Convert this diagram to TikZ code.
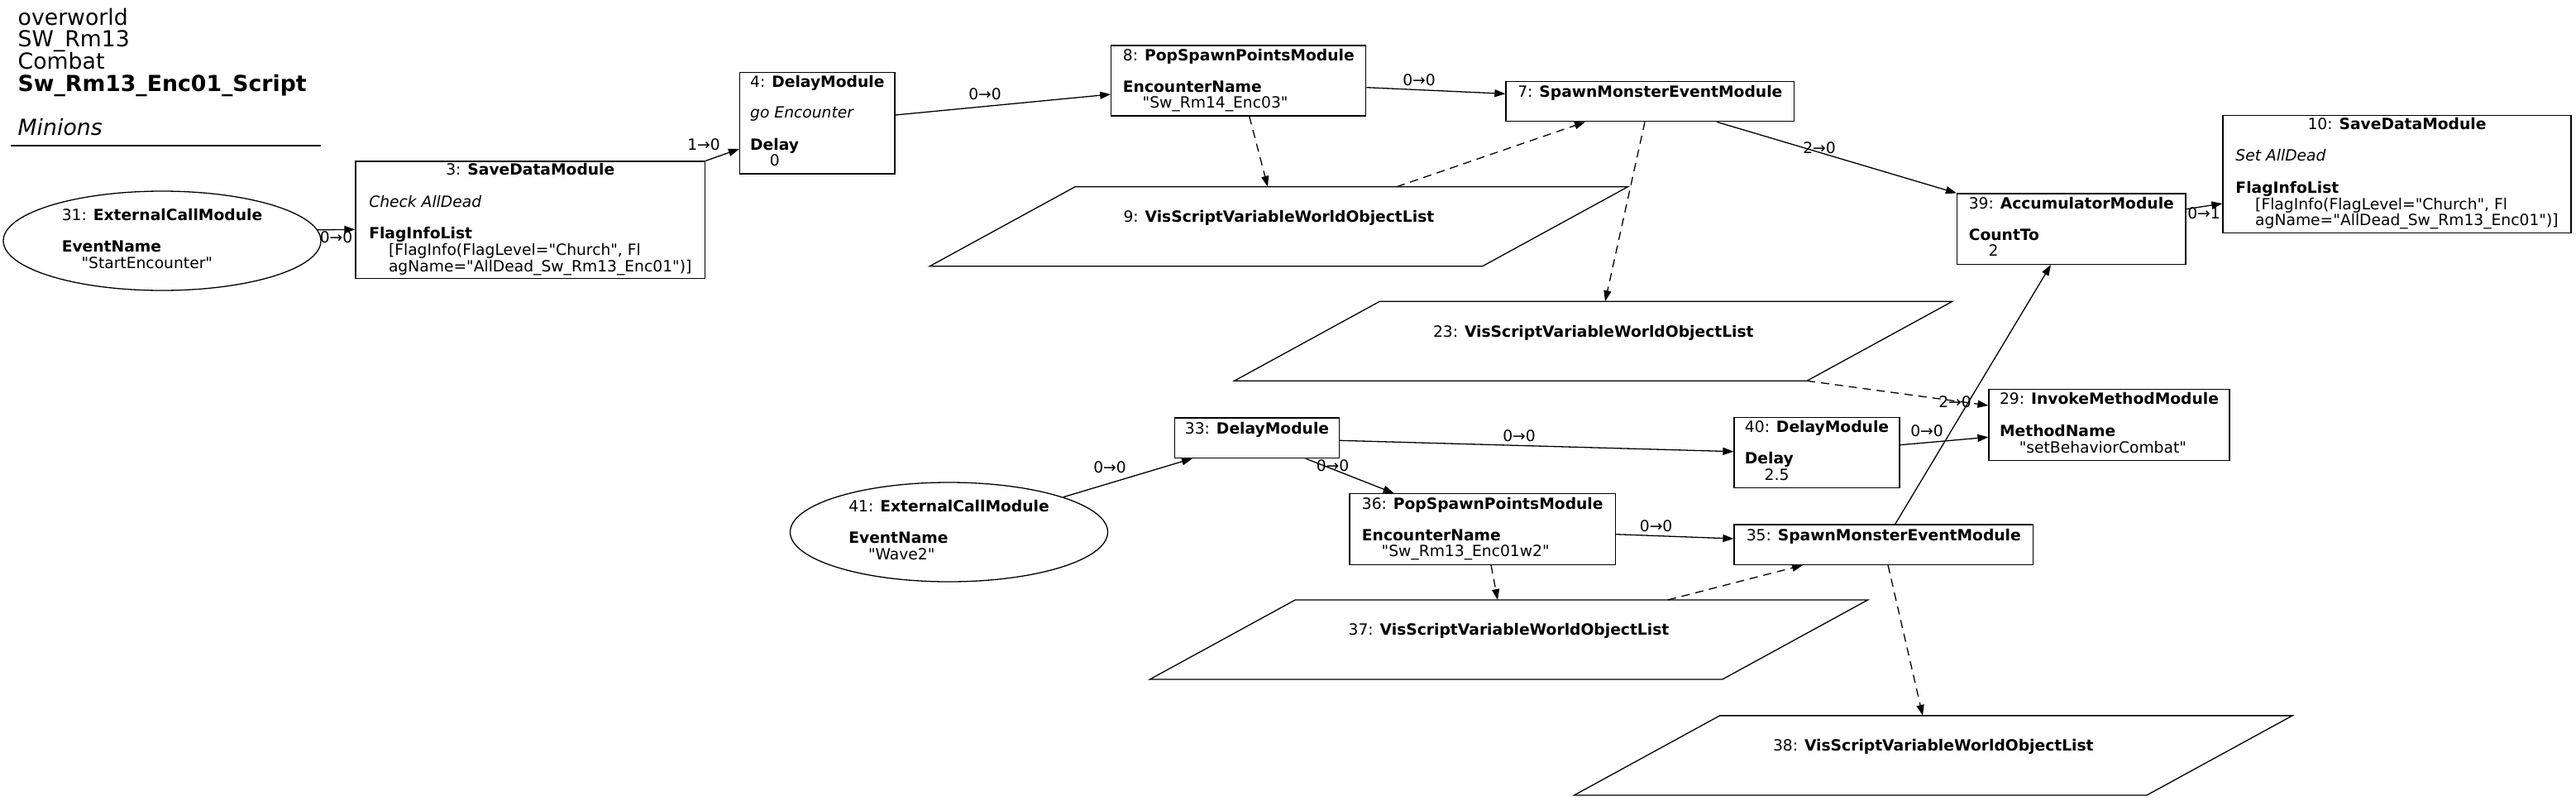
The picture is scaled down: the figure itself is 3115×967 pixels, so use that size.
\documentclass[tikz,border=0pt]{standalone}
\usepackage{fontspec}
\setmainfont{DejaVu Sans}[Ligatures=TeXOff]
\usetikzlibrary{shapes.geometric,arrows.meta}

\newcommand{\nodefont}{\fontsize{18.7}{18.7}\selectfont}
\newcommand{\titlefont}{\fontsize{26.7}{26.7}\selectfont}
\newcommand{\valind}{\hspace*{1.27em}}
\newcommand{\modtitle}[1]{\multicolumn{1}{@{}c@{}}{#1}}

\tikzset{
	module/.style={draw, rectangle, line width=1.3pt, inner sep=0pt, font=\nodefont},
	extcall/.style={draw, ellipse, line width=1.3pt, inner sep=0pt, minimum width=384, minimum height=120, font=\nodefont},
	vislist/.style={rectangle, inner sep=0pt, minimum height=95.7, font=\nodefont},
	visborder/.style={line width=1.3pt, line join=miter},
	flow/.style={-{Triangle[length=13pt,width=9pt]}, line width=1.3pt},
	varflow/.style={flow, dash pattern=on 10pt off 7pt},
	elabel/.style={anchor=base, inner sep=0pt, font=\nodefont},
	titleline/.style={anchor=base west, inner sep=0pt, font=\titlefont},
}

\begin{document}
\begin{tikzpicture}[x=1pt,y=-1pt]
	\useasboundingbox[fill=white] (0,0) rectangle (3115,967);

	% Title
	\node[titleline] (t1) at (21.5,30) {overworld};
	\node[titleline] (t2) at (21.5,56.7) {SW\_Rm13};
	\node[titleline] (t3) at (21.5,83.4) {Combat};
	\node[titleline] (t4) at (21.5,110.1) {\textbf{Sw\_Rm13\_Enc01\_Script}};
	\node[titleline] (t5) at (21.5,163.5) {\textit{Minions}};
	\draw[line width=1.3pt] (13,176) -- (387.5,176);

	% First encounter
	\node[extcall] (m31) at (196,291) {\begin{tabular}{@{}l@{}}31: \textbf{ExternalCallModule}\\ \\ \textbf{EventName}\\ \valind"StartEncounter"\end{tabular}};
	\node[module, minimum width=422.5, minimum height=141.7] (m3) at (641.3,265.9) {\begin{tabular}{@{}l@{}}\modtitle{3: \textbf{SaveDataModule}}\\ \\ \textit{Check AllDead}\\ \\ \textbf{FlagInfoList}\\ \valind[FlagInfo(FlagLevel="Church", Fl\\ \valind agName="AllDead\_Sw\_Rm13\_Enc01")]\end{tabular}};
	\node[module, minimum width=187.4, minimum height=122.7] (m4) at (988.3,148.7) {\begin{tabular}{@{}l@{}}\modtitle{4: \textbf{DelayModule}}\\ \\ \textit{go Encounter}\\ \\ \textbf{Delay}\\ \valind 0\end{tabular}};
	\node[module, minimum width=308, minimum height=85] (m8) at (1497.8,97.5) {\begin{tabular}{@{}l@{}}\modtitle{8: \textbf{PopSpawnPointsModule}}\\ \\ \textbf{EncounterName}\\ \valind"Sw\_Rm14\_Enc03"\end{tabular}};
	\node[module, minimum width=348.6, minimum height=48] (m7) at (1995.3,122.7) {\begin{tabular}{@{}l@{}}\modtitle{7: \textbf{SpawnMonsterEventModule}}\\ {}\end{tabular}};
	\node[vislist, minimum width=844] (v9) at (1546.4,273.7) {\begin{tabular}{@{}c@{}}9: \textbf{VisScriptVariableWorldObjectList}\\ {}\end{tabular}};
	\node[vislist, minimum width=868] (v23) at (1926.8,412.2) {\begin{tabular}{@{}c@{}}23: \textbf{VisScriptVariableWorldObjectList}\\ {}\end{tabular}};
	\node[module, minimum width=276.5, minimum height=85.3] (m39) at (2504.8,276.7) {\begin{tabular}{@{}l@{}}\modtitle{39: \textbf{AccumulatorModule}}\\ \\ \textbf{CountTo}\\ \valind 2\end{tabular}};
	\node[module, minimum width=421, minimum height=142] (m10) at (2898.5,210.3) {\begin{tabular}{@{}l@{}}\modtitle{10: \textbf{SaveDataModule}}\\ \\ \textit{Set AllDead}\\ \\ \textbf{FlagInfoList}\\ \valind[FlagInfo(FlagLevel="Church", Fl\\ \valind agName="AllDead\_Sw\_Rm13\_Enc01")]\end{tabular}};

	% Wave 2
	\node[extcall] (m41) at (1147.5,643) {\begin{tabular}{@{}l@{}}41: \textbf{ExternalCallModule}\\ \\ \textbf{EventName}\\ \valind"Wave2"\end{tabular}};
	\node[module, minimum width=199, minimum height=48.3] (m33) at (1520,529.2) {\begin{tabular}{@{}l@{}}\modtitle{33: \textbf{DelayModule}}\\ {}\end{tabular}};
	\node[module, minimum width=321.5, minimum height=85.6] (m36) at (1792.7,639.5) {\begin{tabular}{@{}l@{}}\modtitle{36: \textbf{PopSpawnPointsModule}}\\ \\ \textbf{EncounterName}\\ \valind"Sw\_Rm13\_Enc01w2"\end{tabular}};
	\node[module, minimum width=200, minimum height=85] (m40) at (2197,546.8) {\begin{tabular}{@{}l@{}}\modtitle{40: \textbf{DelayModule}}\\ \\ \textbf{Delay}\\ \valind 2.5\end{tabular}};
	\node[module, minimum width=291, minimum height=86] (m29) at (2550.5,513.7) {\begin{tabular}{@{}l@{}}\modtitle{29: \textbf{InvokeMethodModule}}\\ \\ \textbf{MethodName}\\ \valind"setBehaviorCombat"\end{tabular}};
	\node[module, minimum width=361.6, minimum height=48.3] (m35) at (2277.8,658.2) {\begin{tabular}{@{}l@{}}\modtitle{35: \textbf{SpawnMonsterEventModule}}\\ {}\end{tabular}};
	\node[vislist, minimum width=868] (v37) at (1824.5,773) {\begin{tabular}{@{}c@{}}37: \textbf{VisScriptVariableWorldObjectList}\\ {}\end{tabular}};
	\node[vislist, minimum width=868] (v38) at (2337.8,912.9) {\begin{tabular}{@{}c@{}}38: \textbf{VisScriptVariableWorldObjectList}\\ {}\end{tabular}};

	% Parallelogram outlines of the object lists
	\foreach \v in {v9,v23,v37,v38}
		\draw[visborder] ([xshift=176pt]\v.north west) -- (\v.north east) -- ([xshift=-176pt]\v.south east) -- (\v.south west) -- cycle;

	% Connectors
	\draw[flow] (m31.4) -- (m3.west |- 0,277.3);
	\node[elabel] (l31) at (406.5,293.3) {0→0};
	\draw[flow] (m3.north east) -- (m4.west |- 0,180);
	\node[elabel] (l3) at (851,181.7) {1→0};
	\draw[flow] (m4.east |- 0,139) -- (m8.west |- 0,114);
	\node[elabel] (l4) at (1191,120) {0→0};
	\draw[flow] (m8.east |- 0,105.7) -- (m7.west |- 0,113.3);
	\node[elabel] (l8) at (1716,103.3) {0→0};
	\draw[varflow] (m8.south -| 1510.7,0) -- (v9.north -| 1533,0);
	\draw[varflow] (v9.north -| 1689,0) -- (m7.south -| 1917,0);
	\draw[varflow] (m7.south -| 1989,0) -- (v23.north -| 1941,0);
	\draw[flow] (m7.south -| 2076,0) -- (m39.north west);
	\node[elabel] (l7) at (2200,185.7) {2→0};
	\draw[flow] (m39.east |- 0,252.7) -- (m10.west |- 0,246);
	\node[elabel] (l39) at (2665,264) {0→1};
	\draw[varflow] ([xshift=-176pt]v23.south east) -- (m29.west |- 0,490);
	\node[elabel] (l23) at (2364,492.7) {2→0};

	\draw[flow] (m41.17) -- (m33.south -| 1442,0);
	\node[elabel] (l41) at (1342,571.7) {0→0};
	\draw[flow] (m33.east |- 0,532.3) -- (m40.west |- 0,545.7);
	\node[elabel] (l33a) at (1837,533.3) {0→0};
	\draw[flow] (m33.south -| 1578.5,0) -- (m36.north -| 1685.6,0);
	\node[elabel] (l33b) at (1611.5,569.3) {0→0};
	\draw[flow] (m40.east |- 0,537.7) -- (m29.west |- 0,528.3);
	\node[elabel] (l40) at (2330,527.7) {0→0};
	\draw[flow] (m36.east |- 0,645.7) -- (m35.west |- 0,651);
	\node[elabel] (l36) at (2002.6,642.3) {0→0};
	\draw[varflow] (m36.south -| 1803,0) -- (v37.north -| 1811,0);
	\draw[varflow] (v37.north -| 2017,0) -- (m35.south -| 2180,0);
	\draw[varflow] (m35.south -| 2283,0) -- (v38.north -| 2325,0);
	\draw[flow] (m35.north -| 2291.7,0) -- (m39.south -| 2480,0);
\end{tikzpicture}
\end{document}
